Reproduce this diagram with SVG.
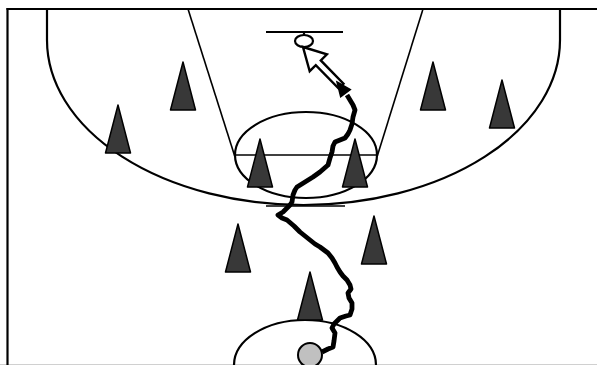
<svg xmlns="http://www.w3.org/2000/svg" width="597" height="365" viewBox="0 0 597 365">
<defs>
<style>
.court{fill:none;stroke:#000;stroke-width:2.2}
.thin{fill:none;stroke:#000;stroke-width:1.6}
.cone{fill:#383838;stroke:#000;stroke-width:1.5;stroke-linejoin:round}
</style>
<path id="cone" d="M0,0 L-12.5,48 L12.5,48 Z"/>
</defs>
<rect width="597" height="365" fill="#fff"/>
<g id="court">
<line x1="0" y1="364.5" x2="597" y2="364.5" stroke="#d0d0d0" stroke-width="1"/>
<line class="court" x1="7.5" y1="8" x2="7.5" y2="365"/>
<line class="court" x1="6.5" y1="9" x2="597" y2="9"/>
<path class="court" d="M47,9 L47,40 A256.5,165 0 0 0 560,40 L560,9"/>
<line class="thin" x1="188" y1="9" x2="235" y2="157"/>
<line class="thin" x1="423" y1="9" x2="377" y2="157"/>
<line class="thin" x1="235" y1="155" x2="377" y2="155"/>
<ellipse class="court" cx="306" cy="155" rx="71" ry="43"/>
<line class="thin" x1="266" y1="206" x2="345" y2="206"/>
<ellipse class="court" cx="305" cy="365" rx="71" ry="45"/>
</g>
<g id="basket">
<line class="court" x1="266" y1="32" x2="343" y2="32"/>
<line class="court" x1="304" y1="32" x2="304" y2="36"/>
<ellipse cx="304" cy="41" rx="9" ry="6" fill="#fff" stroke="#000" stroke-width="2.2"/>
</g>
<g id="cones">
<use href="#cone" class="cone" x="183" y="62"/>
<use href="#cone" class="cone" x="118" y="105"/>
<use href="#cone" class="cone" x="260" y="139"/>
<use href="#cone" class="cone" x="355" y="139"/>
<use href="#cone" class="cone" x="433" y="62"/>
<use href="#cone" class="cone" x="502" y="80"/>
<use href="#cone" class="cone" x="238" y="224"/>
<use href="#cone" class="cone" x="374" y="216"/>
<use href="#cone" class="cone" x="310" y="272"/>
</g>
<g id="connectors">
<path id="dribble" fill="none" stroke="#000" stroke-width="4.8" stroke-linejoin="round" d="M322,352 L328,349 L333,347 L334,341 L335,333 L332,328 L334,324 L340,318 L346,316 L350,315 L352,309 L352,303 L349,298 L348,293 L351,289 L350,285 L347,280 L343,276 L340,272 L337,267 L335,263 L332,258 L328,253 L324,250 L320,247 L315,244 L310,240 L305,236 L300,232 L294,226 L287,220 L282,218 L278,215 L283,212 L287,208 L290,205 L292,202 L293,195 L295,190 L297,187 L305,182 L313,177 L320,172 L328,165 L330,158 L332,152 L333,146 L335,142 L340,140 L345,138 L348,134 L350,130 L352,124 L353,117 L355,110 L353,105 L350,100 L347,95"/>
<polygon id="pass" points="303,47 326.9,54.4 320.8,60.4 343.5,83.6 338.5,88.4 315.8,65.2 309.7,71.2" fill="#fff" stroke="#000" stroke-width="2.4" stroke-linejoin="miter"/>
<polygon id="dribble-head" points="337,82 350.3,89.5 340.7,96.7" fill="#000" stroke="#000" stroke-width="1.5"/>
</g>
<g id="ball">
<circle cx="310" cy="355" r="12" fill="#c0c0c0" stroke="#000" stroke-width="2"/>
</g>
</svg>
